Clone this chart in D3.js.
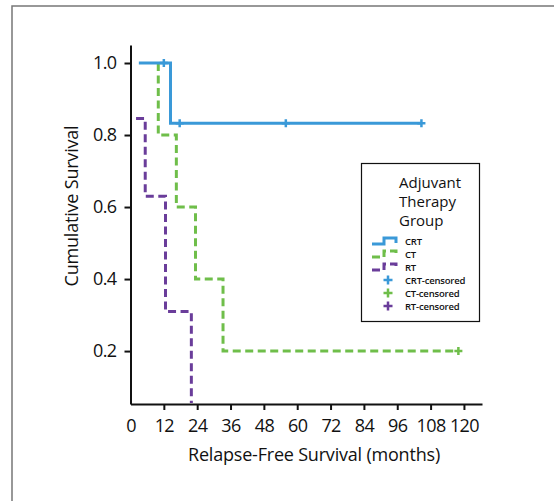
<!DOCTYPE html>
<html>
<head>
<meta charset="utf-8">
<script src="https://cdn.jsdelivr.net/npm/d3@7"></script>
<style>
  body { margin: 0; background: #fff; }
  text { font-family: "Open Sans", "Noto Sans", sans-serif; fill: #111; }
</style>
</head>
<body>
<div id="chart"></div>
<script>
// Kaplan-Meier steps (months, survival)
var crtTimes = [3, 14.4, 104.7];
var crtSurv  = [1.0, 0.833, 0.833];
var ctTimes  = [10, 10, 16.5, 23.4, 33.3, 118];
var ctSurv   = [1.0, 0.8, 0.6, 0.4, 0.2, 0.2];
var rtTimes  = [2, 5.3, 12.6, 21.9];
var rtSurv   = [0.846, 0.63, 0.31, 0.0];

// censored observations
var crtCensTimes = [12, 17.7, 55.9, 104.7];
var crtCensSurv  = [1.0, 0.833, 0.833, 0.833];
var ctCensTimes  = [118];
var ctCensSurv   = [0.2];

var xTicks = [0, 12, 24, 36, 48, 60, 72, 84, 96, 108, 120];
var yTicks = [0.2, 0.4, 0.6, 0.8, 1.0];

var legendTitle = ["Adjuvant", "Therapy", "Group"];
var legendLabels = ["CRT", "CT", "RT", "CRT-censored", "CT-censored", "RT-censored"];

var colors = { CRT: "#3a99d8", CT: "#6fbe4a", RT: "#6a3d9a" };

var width = 554, height = 501;

var svg = d3.select('#chart')
  .append('svg')
  .attr('width', width)
  .attr('height', height);

// outer frame
svg.append('path')
  .attr('d', 'M12,501 V6 H554')
  .attr('fill', 'none')
  .attr('stroke', '#777')
  .attr('stroke-width', 1.5);

///////////////////////
// Scales
var x = d3.scaleLinear().domain([0, 126.5]).range([130.5, 482]);
var y = d3.scaleLinear().domain([0.053, 1.05]).range([404, 45]);

///////////////////////
// Axis
var xAxis = d3.axisBottom(x)
  .tickValues(xTicks)
  .tickSizeInner(6)
  .tickSizeOuter(0)
  .tickPadding(9);

var yAxis = d3.axisLeft(y)
  .tickValues(yTicks)
  .tickFormat(d3.format('.1f'))
  .tickSizeInner(6)
  .tickSizeOuter(0)
  .tickPadding(8);

var gx = svg.append('g')
  .attr('transform', 'translate(0,' + y.range()[0] + ')')
  .call(xAxis);

var gy = svg.append('g')
  .attr('transform', 'translate(' + x.range()[0] + ',0)')
  .call(yAxis);

[gx, gy].forEach(function(g) {
  g.select('.domain').attr('stroke', '#111').attr('stroke-width', 2);
  g.selectAll('.tick line').attr('stroke', '#111').attr('stroke-width', 2);
  g.selectAll('.tick text')
    .style('font-family', '"Open Sans", sans-serif')
    .style('font-size', '18px')
    .style('letter-spacing', '-0.6px')
    .attr('fill', '#111');
});
gx.selectAll('.tick').filter(function(d) { return d === 0; }).select('line').remove();

svg.append('text')
  .attr('x', 314)
  .attr('y', 461)
  .attr('text-anchor', 'middle')
  .style('font-size', '18px')
  .style('letter-spacing', '-0.2px')
  .text('Relapse-Free Survival (months)');

svg.append('text')
  .attr('transform', 'translate(78,206) rotate(-90)')
  .attr('text-anchor', 'middle')
  .style('font-size', '18px')
  .style('letter-spacing', '-0.2px')
  .text('Cumulative Survival');

///////////////////////
// Lines
svg.append('clipPath')
  .attr('id', 'plot-clip')
  .append('rect')
  .attr('x', x.range()[0] + 1)
  .attr('y', 30)
  .attr('width', 400)
  .attr('height', y.range()[0] - 31);

var line = d3.line()
  .x(function(d) { return x(d[0]); })
  .y(function(d) { return y(d[1]); })
  .curve(d3.curveStepAfter);

var series = [
  { name: 'CRT', t: crtTimes, s: crtSurv, dash: null },
  { name: 'CT', t: ctTimes, s: ctSurv, dash: '8,4.5' },
  { name: 'RT', t: rtTimes, s: rtSurv, dash: '8,4.5' }
];

var plot = svg.append('g').attr('clip-path', 'url(#plot-clip)');

// draw RT first, then CT, then CRT on top
series.slice().reverse().forEach(function(sr) {
  var pts = sr.t.map(function(t, i) { return [t, sr.s[i]]; });
  plot.append('path')
    .datum(pts)
    .attr('fill', 'none')
    .attr('stroke', colors[sr.name])
    .attr('stroke-width', 3)
    .attr('stroke-dasharray', sr.dash)
    .attr('d', line);
});

///////////////////////
// Censor marks
function plus(g, cx, cy, col, r) {
  g.append('path')
    .attr('d', 'M' + (cx - r) + ',' + cy + 'H' + (cx + r) + 'M' + cx + ',' + (cy - r) + 'V' + (cy + r))
    .attr('stroke', col)
    .attr('stroke-width', 2.5)
    .attr('fill', 'none');
}

crtCensTimes.forEach(function(t, i) {
  plus(svg, x(t), y(crtCensSurv[i]), colors.CRT, 4);
});
ctCensTimes.forEach(function(t, i) {
  plus(svg, x(t), y(ctCensSurv[i]), colors.CT, 4);
});

///////////////////////
// Legend
var lg = svg.append('g');
lg.append('rect')
  .attr('x', 361.5)
  .attr('y', 163.5)
  .attr('width', 118)
  .attr('height', 158)
  .attr('fill', '#fff')
  .attr('stroke', '#111')
  .attr('stroke-width', 1.2);

legendTitle.forEach(function(s, i) {
  lg.append('text')
    .attr('x', 399)
    .attr('y', 188 + i * 19)
    .style('font-size', '15px')
    .text(s);
});

var names = ['CRT', 'CT', 'RT'];
legendLabels.forEach(function(s, i) {
  var cy = 241 + i * 13;
  var nm = names[i % 3];
  if (i < 3) {
    lg.append('path')
      .attr('d', 'M372,' + (cy + 3) + 'H384V' + (cy - 3) + 'H396V' + (cy + 2))
      .attr('fill', 'none')
      .attr('stroke', colors[nm])
      .attr('stroke-width', 3)
      .attr('stroke-dasharray', i === 0 ? null : '8,4');
  } else {
    plus(lg, 388, cy, colors[nm], 4.5);
  }
  lg.append('text')
    .attr('x', 405)
    .attr('y', cy + 3.5)
    .style('font-size', '9.5px')
    .style('font-weight', '600')
    .style('letter-spacing', '-0.2px')
    .text(s);
});
</script>
</body>
</html>
